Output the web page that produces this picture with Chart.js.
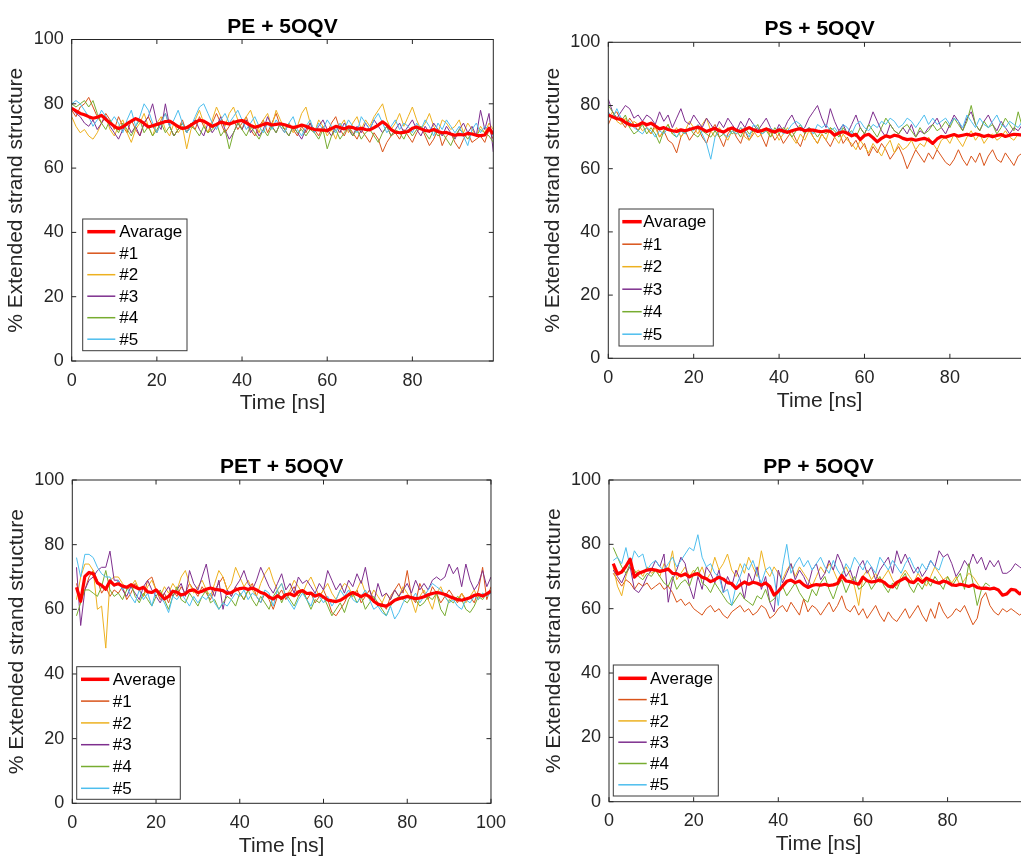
<!DOCTYPE html>
<html><head><meta charset="utf-8">
<script src="https://cdn.jsdelivr.net/npm/chart.js@4/dist/chart.umd.min.js"></script>
<style>
html,body{margin:0;padding:0;width:1021px;height:860px;overflow:hidden;background:#fff;}
canvas{position:absolute;}
</style></head><body>
<canvas id="c1"></canvas><canvas id="c2"></canvas><canvas id="c3"></canvas><canvas id="c4"></canvas>
<script>
// ---------- time axes (ns) ----------
const timeTop = [0,1,2,3,4,5,6,7,8,9,10,11,12,13,14,15,16,17,18,19,20,21,22,23,24,25,26,27,28,29,30,31,32,33,34,35,36,37,38,39,40,41,42,43,44,45,46,47,48,49,50,51,52,53,54,55,56,57,58,59,60,61,62,63,64,65,66,67,68,69,70,71,72,73,74,75,76,77,78,79,80,81,82,83,84,85,86,87,88,89,90,91,92,93,94,95,96,97,98,99];
const timeBottom = [1,2,3,4,5,6,7,8,9,10,11,12,13,14,15,16,17,18,19,20,21,22,23,24,25,26,27,28,29,30,31,32,33,34,35,36,37,38,39,40,41,42,43,44,45,46,47,48,49,50,51,52,53,54,55,56,57,58,59,60,61,62,63,64,65,66,67,68,69,70,71,72,73,74,75,76,77,78,79,80,81,82,83,84,85,86,87,88,89,90,91,92,93,94,95,96,97,98,99,100];

const panelTitles = ['PE + 5OQV','PS + 5OQV','PET + 5OQV','PP + 5OQV'];
const legendLabelsTop = ['Avarage','#1','#2','#3','#4','#5'];
const legendLabelsBottom = ['Average','#1','#2','#3','#4','#5'];
const xAxisLabel = 'Time [ns]';
const yAxisLabel = '% Extended strand structure';
const yTicks = [0,20,40,60,80,100];

// ---------- PE + 5OQV ----------
const peAvg = [78.6,77.8,77.0,76.6,76.0,75.5,75.8,76.4,75.2,74.0,
73.0,72.3,72.8,73.8,74.6,75.4,74.8,73.9,72.8,73.2,
73.6,74.0,74.5,74.6,73.8,72.9,72.3,72.6,73.4,74.2,
74.9,74.6,73.8,73.0,73.6,74.3,74.0,73.7,74.2,74.6,
74.8,74.1,73.3,72.7,73.1,73.6,73.9,73.4,73.6,73.8,
73.5,73.0,72.6,72.9,73.4,73.0,72.4,72.0,71.9,71.8,
71.7,72.3,73.0,72.6,72.2,72.8,72.6,72.1,72.4,72.0,
71.9,72.6,73.4,74.4,73.4,72.0,71.2,71.0,71.1,71.4,
72.4,72.8,72.2,71.7,71.5,72.0,71.4,71.0,71.1,70.6,
70.2,70.5,70.3,70.8,70.6,70.2,70.1,70.3,72.4,70.6];
const pe1 = [78,76,79,80,82,79,76,74,77,75, 72,76,73,71,75,72,70,74,76,73, 71,75,77,73,70,72,75,71,74,72, 76,73,71,74,77,74,71,73,75,72,
74,76,72,70,73,75,71,74,77,73, 71,74,72,70,73,71,74,72,70,73, 71,74,76,72,70,73,71,69,72,70, 68,71,69,65,68,70,71,69,72,70,
68,71,73,70,67,69,72,67,70,71, 68,66,69,71,68,69,70,68,72,69];
const pe2 = [76,73,71,72,70,69,71,74,76,72, 70,73,75,71,68,72,74,77,73,70, 74,76,72,70,74,71,73,66,72,75, 78,74,71,75,79,76,73,77,79,75,
72,76,78,74,71,75,77,73,78,75, 72,74,71,73,77,79,74,71,75,73, 70,72,69,73,75,71,74,76,72,75, 73,76,78,80,75,72,74,77,73,76,
79,75,72,74,77,73,71,75,74,72, 73,75,71,74,72,70,73,71,74,72];
const pe3 = [79,77,76,74,73,75,72,74,76,73, 71,69,72,74,71,73,70,74,76,80, 74,72,80,73,70,72,74,71,73,75, 72,70,74,71,73,76,72,69,71,74,
72,75,71,73,70,72,76,73,71,74, 72,70,73,71,69,72,74,71,73,75, 72,70,73,71,74,72,70,73,71,74, 72,75,73,71,73,70,72,74,71,73,
75,72,70,73,71,74,72,70,73,71, 69,72,74,71,73,70,78,72,77,65];
const pe4 = [80,79,80,81,79,81,77,74,72,75, 73,71,74,72,70,73,75,71,73,70, 72,74,71,73,70,72,74,71,73,72, 70,73,71,72,74,70,72,66,71,74,
72,70,73,71,69,72,70,73,71,74, 72,70,73,71,72,70,72,71,69,72, 66,70,72,69,71,73,70,72,69,71, 72,70,68,71,73,70,72,71,69,72,
70,72,73,71,69,72,70,71,69,67, 70,72,71,69,71,70,72,71,70,68];
const pe5 = [80,81,80,78,76,73,75,78,76,74, 76,74,71,75,78,73,76,80,78,74, 71,74,77,73,75,78,74,71,73,76, 79,80,77,74,72,75,77,74,76,78,
75,72,74,76,73,71,74,72,75,73, 71,74,76,72,70,73,75,71,74,72, 75,73,71,74,72,75,73,71,76,74, 72,75,77,74,71,73,75,72,74,73,
71,74,72,75,73,70,74,72,75,73, 71,73,70,67,72,74,71,73,72,70];

// ---------- PS + 5OQV ----------
const psAvg = [77.0,76.4,75.8,75.6,74.6,74.0,73.6,73.8,74.6,73.9,
74.4,73.5,72.6,73.0,72.4,72.0,71.8,72.3,72.0,72.4,
72.8,73.2,72.5,71.8,72.3,72.8,72.0,71.6,72.4,72.9,
72.2,71.7,72.4,73.0,72.3,71.8,72.1,72.6,72.0,71.6,
72.3,71.9,71.5,72.0,72.4,72.7,72.0,72.3,72.2,71.9,
71.7,72.0,71.8,70.6,71.3,71.7,71.2,70.4,70.9,69.2,
70.5,70.9,69.8,68.5,69.6,70.4,70.0,70.6,70.3,69.6,
69.2,69.4,69.0,69.3,69.6,69.1,68.0,69.4,70.2,70.0,
70.4,70.8,70.3,70.6,70.9,70.5,71.0,70.7,70.2,70.6,
70.1,70.5,70.8,70.2,70.6,70.9,70.8,70.6,70.9,71.0];
const ps1 = [74,77,78,75,73,76,74,72,75,73, 71,74,70,72,69,68,65,70,72,69, 71,73,70,68,72,74,70,67,71,73, 70,68,72,69,71,73,70,67,72,69,
71,68,70,72,69,67,71,73,70,68, 71,69,67,70,72,68,70,67,69,66, 68,64,67,65,68,66,63,65,67,64, 60,63,66,64,62,65,63,66,64,62,
61,63,66,63,61,64,62,65,61,64, 66,63,62,65,63,61,64,65,66,65];
const ps2 = [76,78,75,74,76,73,75,74,72,73, 71,73,70,72,74,71,73,70,72,75, 73,71,74,76,72,70,73,71,69,72, 71,73,70,69,72,70,71,73,70,72,
69,71,73,70,68,71,69,72,70,68, 71,69,73,70,68,71,69,68,66,69, 67,65,68,66,64,67,69,65,68,66, 67,69,66,68,67,70,68,66,69,70,
68,71,69,67,70,72,69,71,68,70, 71,69,70,72,70,69,71,70,72,71];
const ps3 = [82,78,76,78,80,79,76,77,75,77, 76,74,78,75,77,73,76,79,75,74, 77,75,73,76,74,72,75,73,76,74, 72,75,73,76,74,72,74,76,73,71,
74,72,75,77,74,72,73,76,78,80, 76,73,79,75,72,74,71,74,77,73, 71,74,78,75,72,70,74,72,71,73, 71,74,70,72,71,73,74,76,73,71,
74,77,75,72,76,78,74,72,75,77, 74,72,75,73,71,73,72,74,73,72];
const ps4 = [80,78,76,75,77,73,71,72,74,71, 73,71,68,72,74,71,70,72,71,73, 71,70,72,71,70,72,70,71,73,71, 72,70,73,71,72,74,71,72,70,73,
71,73,72,70,72,74,71,73,72,70, 72,71,73,72,70,73,71,72,70,73, 71,74,72,70,73,76,74,72,71,73, 74,72,70,73,71,72,74,72,73,75,
73,76,74,72,75,80,74,72,75,73, 74,71,73,76,74,72,78,73,74,73];
const ps5 = [78,76,79,76,74,75,73,72,71,73, 72,70,72,71,73,72,70,72,71,73, 72,74,71,68,63,70,72,71,70,72, 71,73,72,70,74,73,71,72,73,71,
73,71,72,74,75,74,72,73,71,74, 73,74,72,73,71,74,73,71,74,75, 73,72,74,73,75,74,76,75,73,74, 76,75,73,75,77,74,76,74,75,76,
74,76,75,73,77,75,73,76,74,73, 75,77,74,73,75,74,73,75,74,74];

// ---------- PET + 5OQV ----------
const petAvg = [66.8,62.5,70.2,71.4,71.0,68.2,67.4,66.2,68.8,67.5,
67.9,67.2,66.8,67.6,66.9,66.3,66.8,65.4,65.2,66.0,
64.6,63.2,64.0,65.6,65.3,64.4,64.8,65.8,66.0,65.2,
65.6,66.2,66.6,66.2,66.0,65.8,64.9,65.2,66.0,66.4,
66.6,66.1,66.6,66.0,65.2,64.8,63.8,63.2,64.2,63.4,
64.5,64.8,64.2,65.4,65.8,64.9,65.0,64.1,64.6,63.8,
62.9,62.6,62.4,62.8,63.6,64.5,65.2,64.6,63.9,64.6,
63.9,62.5,61.6,61.2,61.0,61.8,62.8,63.3,63.6,64.0,
63.6,63.3,63.5,63.9,64.5,64.9,65.2,65.0,64.6,64.0,
63.5,63.0,62.8,63.2,63.6,64.3,64.6,64.1,64.8,65.6];
const pet1 = [68,63,66,70,72,69,65,67,64,66, 65,67,63,65,68,66,64,69,70,66, 63,65,62,66,64,67,65,68,66,64, 67,65,63,66,68,70,66,64,67,65,
63,66,68,64,62,65,63,60,64,66, 63,65,67,64,66,63,65,62,64,66, 63,59,58,60,62,65,64,66,62,64, 66,63,61,62,60,64,66,68,65,72,
64,62,68,65,63,67,65,62,64,66, 64,62,65,63,64,62,66,73,63,67];
const pet2 = [63,70,74,74,72,60,61,48,69,70, 70,68,66,67,69,66,64,67,69,66, 64,67,65,68,66,70,72,68,65,67, 69,66,64,68,72,70,66,68,73,70,
67,69,66,64,68,71,73,69,66,68, 64,66,69,67,65,68,70,67,64,66, 68,65,63,66,68,67,64,66,69,65, 63,66,64,62,65,63,66,64,67,65,
63,59,64,66,63,60,65,67,64,62, 64,63,65,62,64,66,63,65,64,66];
const pet3 = [73,55,66,69,70,72,73,73,78,69, 69,66,64,67,65,63,67,69,66,64, 62,65,67,64,66,68,64,72,68,66, 70,74,67,64,69,60,66,64,67,69,
72,68,66,69,73,70,67,65,68,71, 66,68,65,70,68,69,67,65,68,66, 72,69,66,68,65,69,67,71,68,73, 66,62,68,64,65,63,66,64,66,68,
65,69,66,68,66,69,70,69,70,74, 71,73,67,74,69,66,68,72,67,70];
const pet4 = [58,62,66,66,65,64,67,72,66,64, 65,63,66,68,64,62,65,63,61,64, 66,63,60,64,67,63,62,65,63,61, 64,66,62,63,60,62,64,63,61,65,
63,66,63,61,64,62,60,64,66,62, 65,63,61,64,66,63,60,63,62,64, 61,58,60,62,59,63,65,62,64,60, 62,64,62,60,58,61,63,64,63,62,
64,63,61,62,64,63,65,60,58,63, 62,64,63,60,59,61,64,63,65,65];
const pet5 = [76,70,77,77,76,73,71,70,70,67, 69,66,67,64,62,66,63,65,61,66, 64,62,59,64,63,65,63,61,64,62, 64,63,65,62,60,62,61,63,65,64,
66,63,65,64,62,66,65,61,66,68, 64,62,60,63,65,63,61,65,64,62, 64,61,63,66,64,66,63,62,64,66, 63,60,61,59,58,61,57,59,62,64,
63,65,62,64,66,68,67,66,64,62, 63,61,60,63,62,64,63,65,64,65];

// ---------- PP + 5OQV ----------
const ppAvg = [74.0,70.8,71.4,73.2,75.4,69.8,71.0,71.5,72.0,72.2,
72.0,71.6,71.9,72.3,71.0,70.9,70.2,70.8,69.9,70.6,
70.9,69.8,69.3,68.4,69.0,69.8,69.2,68.1,67.8,66.3,
67.4,68.3,67.6,68.2,67.9,67.3,68.0,66.9,64.2,65.4,
67.0,68.5,68.9,68.1,68.6,67.4,66.6,67.2,67.5,67.3,
67.6,67.2,67.4,67.8,70.3,68.6,68.4,68.0,67.6,69.8,
68.7,68.3,68.5,68.9,68.2,67.0,66.8,68.2,68.9,69.6,
68.4,68.1,69.3,68.2,69.5,68.8,68.3,67.9,68.6,68.2,
67.4,67.2,67.6,67.3,66.9,67.4,66.6,66.3,66.4,66.1,
66.4,65.8,64.2,64.6,66.0,65.8,64.6,65.4,65.0];
const pp1 = [71,69,67,69,68,66,68,67,68,66, 67,68,66,67,65,62,63,61,62,60, 59,58,60,61,59,60,58,57,59,60, 61,59,60,58,59,61,60,57,58,60,
61,59,62,60,58,63,59,61,60,58, 60,62,59,61,64,60,59,61,58,60, 57,59,61,58,56,59,57,56,58,60, 57,59,61,58,56,60,57,62,59,57,
58,60,59,61,58,55,57,63,65,61, 59,58,60,59,60,59,58,59,58];
const pp2 = [73,67,64,70,74,71,72,70,73,71, 72,70,74,72,78,69,71,73,70,72, 70,73,69,71,76,72,74,77,72,70, 74,71,76,73,70,78,72,70,73,71,
69,72,74,70,73,71,69,67,70,73, 71,74,72,69,71,73,70,67,61,70, 72,69,71,68,70,72,69,67,70,72, 70,68,71,69,67,70,73,71,69,70,
68,70,67,69,71,70,68,66];
const pp3 = [72,70,68,71,73,66,65,67,70,72, 75,73,77,62,69,72,76,74,67,63, 70,66,73,71,68,72,65,70,67,72, 69,63,71,68,73,66,70,62,59,72,
68,71,74,69,72,70,67,72,74,69, 71,75,72,77,74,70,72,68,73,75, 71,73,69,72,74,76,71,78,74,77, 74,71,73,70,72,75,73,78,76,77,
74,70,72,75,73,77,74,76,72,75, 73,75,71,71,72,74,73,72,71];
const pp4 = [79,76,73,71,74,72,70,69,71,70, 72,70,68,67,70,66,68,69,67,71, 73,68,67,65,68,66,64,62,61,63, 65,63,62,61,64,63,66,62,63,65,
67,64,66,68,65,63,62,66,64,68, 70,66,63,67,69,65,68,70,66,67, 69,66,68,70,67,65,68,66,69,71, 67,65,68,66,69,67,70,68,66,70,
67,69,71,66,74,68,61,66,68,67];
const pp5 = [75,76,74,79,73,78,76,77,72,74, 75,73,72,74,76,73,75,77,79,78, 83,76,73,74,71,70,65,66,61,67, 70,74,72,75,71,68,72,73,70,61,
73,80,71,74,76,73,75,72,74,76, 73,71,75,72,70,74,72,76,74,72, 75,73,71,76,74,72,75,73,71,74, 76,73,71,74,72,75,73,72,76];

// ---------- styling ----------
const seriesColors = ['#FF0000','#D95319','#EDB120','#7E2F8E','#77AC30','#4DBEEE'];
const FONT = "'Liberation Sans', Arial, Helvetica, sans-serif";
const INK = '#262626';

const panels = [
  {id:'c1', title:panelTitles[0], labels:legendLabelsTop, time:timeTop, series:[peAvg,pe1,pe2,pe3,pe4,pe5], xMax:99,
   area:{L:71.7,R:493.3,T:39.5,B:361},
   legend:{x:11,w:104.3,top:142,h:131.7,row0:12.7,rowH:21.5,l0:15.6,l1:43.6,tx:47.6}},
  {id:'c2', title:panelTitles[1], labels:legendLabelsTop, time:timeTop, series:[psAvg,ps1,ps2,ps3,ps4,ps5], xMax:99,
   area:{L:608.3,R:1031,T:42.3,B:358.3},
   legend:{x:10.7,w:94.3,top:149.3,h:137,row0:12.7,rowH:22.5,l0:14,l1:33.4,tx:35}},
  {id:'c3', title:panelTitles[2], labels:legendLabelsBottom, time:timeBottom, series:[petAvg,pet1,pet2,pet3,pet4,pet5], xMax:100,
   area:{L:72.3,R:492.3,T:480,B:803.3},
   legend:{x:4.4,w:103.6,top:136.6,h:132.6,row0:12.6,rowH:21.8,l0:8.7,l1:37,tx:40.4}},
  {id:'c4', title:panelTitles[3], labels:legendLabelsBottom, time:timeBottom, series:[ppAvg,pp1,pp2,pp3,pp4,pp5], xMax:99,
   area:{L:609,R:1028,T:480,B:801.7},
   legend:{x:4.3,w:105,top:136.7,h:131,row0:13.3,rowH:21.3,l0:9.3,l1:37.7,tx:41}}
];

const framePlugin = {
  id: 'frame',
  afterDatasetsDraw(chart, args, opts) {
    const {ctx, chartArea: a} = chart;
    const xs = chart.scales.x, ys = chart.scales.y;
    ctx.save();
    ctx.strokeStyle = INK; ctx.lineWidth = 1;
    ctx.strokeRect(a.left, a.top, a.right - a.left, a.bottom - a.top);
    ctx.beginPath();
    xs.ticks.forEach(t => {
      const px = xs.getPixelForValue(t.value);
      ctx.moveTo(px, a.bottom); ctx.lineTo(px, a.bottom - 4.5);
      ctx.moveTo(px, a.top); ctx.lineTo(px, a.top + 4.5);
    });
    ys.ticks.forEach(t => {
      const py = ys.getPixelForValue(t.value);
      ctx.moveTo(a.left, py); ctx.lineTo(a.left + 4.5, py);
      ctx.moveTo(a.right, py); ctx.lineTo(a.right - 4.5, py);
    });
    ctx.stroke();
    // title
    ctx.fillStyle = '#000';
    ctx.font = 'bold 21px ' + FONT;
    ctx.textAlign = 'center'; ctx.textBaseline = 'alphabetic';
    ctx.fillText(opts.title, (a.left + a.right) / 2, a.top - 7);
    // legend
    const L = opts.legend;
    const bx = a.left + L.x, by = a.bottom - L.top;
    ctx.fillStyle = '#fff';
    ctx.fillRect(bx, by, L.w, L.h);
    ctx.strokeStyle = '#3a3a3a'; ctx.lineWidth = 1;
    ctx.strokeRect(bx, by, L.w, L.h);
    ctx.font = '17px ' + FONT;
    ctx.textAlign = 'left'; ctx.textBaseline = 'middle';
    chart.data.datasets.forEach((ds, i) => {
      const cy = by + L.row0 + i * L.rowH;
      ctx.strokeStyle = ds.borderColor;
      ctx.lineWidth = i === 0 ? 3.5 : 1.5;
      ctx.beginPath(); ctx.moveTo(a.left + L.l0, cy); ctx.lineTo(a.left + L.l1, cy); ctx.stroke();
      ctx.fillStyle = '#000';
      ctx.fillText(ds.label, a.left + L.tx, cy + 1);
    });
    ctx.restore();
  }
};

panels.forEach(p => {
  const A = p.area;
  const cLeft = Math.floor(A.L - 72);
  const yW = A.L - cLeft;
  const cTop = Math.floor(A.T - 40);
  const padTop = A.T - cTop;
  const cW = Math.ceil(A.R + 22 - cLeft);
  const padRight = cLeft + cW - A.R;
  const cH = Math.ceil(A.B + 60 - cTop);
  const xH = cTop + cH - A.B;
  const cv = document.getElementById(p.id);
  cv.width = cW; cv.height = cH;
  cv.style.left = cLeft + 'px'; cv.style.top = cTop + 'px';
  cv.style.width = cW + 'px'; cv.style.height = cH + 'px';

  const datasets = p.series.map((vals, i) => ({
    label: p.labels[i],
    data: vals.map((v, k) => ({x: p.time[k], y: v})),
    borderColor: seriesColors[i],
    backgroundColor: seriesColors[i],
    borderWidth: i === 0 ? 3.2 : 1,
    pointRadius: 0,
    tension: 0,
    fill: false,
    borderJoinStyle: 'round',
    order: i === 0 ? 0 : 6 - i
  }));

  new Chart(cv, {
    type: 'line',
    data: {datasets},
    plugins: [framePlugin],
    options: {
      responsive: false,
      maintainAspectRatio: false,
      animation: false,
      events: [],
      layout: {padding: {top: padTop, right: padRight, left: 0, bottom: 0}},
      plugins: {
        legend: {display: false},
        tooltip: {enabled: false},
        title: {display: false},
        frame: {title: p.title, legend: p.legend}
      },
      scales: {
        x: {
          type: 'linear', min: 0, max: p.xMax,
          grid: {display: false, drawTicks: false, tickLength: 0},
          border: {display: false},
          ticks: {stepSize: 20, color: INK, font: {family: FONT, size: 18}, padding: 9, maxRotation: 0, autoSkip: false},
          title: {display: true, text: xAxisLabel, color: INK, font: {family: FONT, size: 21}, padding: {top: 0, bottom: 5.4}},
          afterBuildTicks: s => { s.ticks = s.ticks.filter(t => t.value % 20 === 0); },
          afterFit: s => { s.height = xH; }
        },
        y: {
          min: 0, max: 100,
          grid: {display: false, drawTicks: false, tickLength: 0},
          border: {display: false},
          ticks: {stepSize: 20, color: INK, font: {family: FONT, size: 18}, padding: 8},
          title: {display: true, text: yAxisLabel, color: INK, font: {family: FONT, size: 21}, padding: {top: 5.1, bottom: 0}},
          afterBuildTicks: s => { s.ticks = yTicks.map(v => ({value: v})); },
          afterFit: s => { s.width = yW; }
        }
      }
    }
  });
});
</script>
</body></html>
